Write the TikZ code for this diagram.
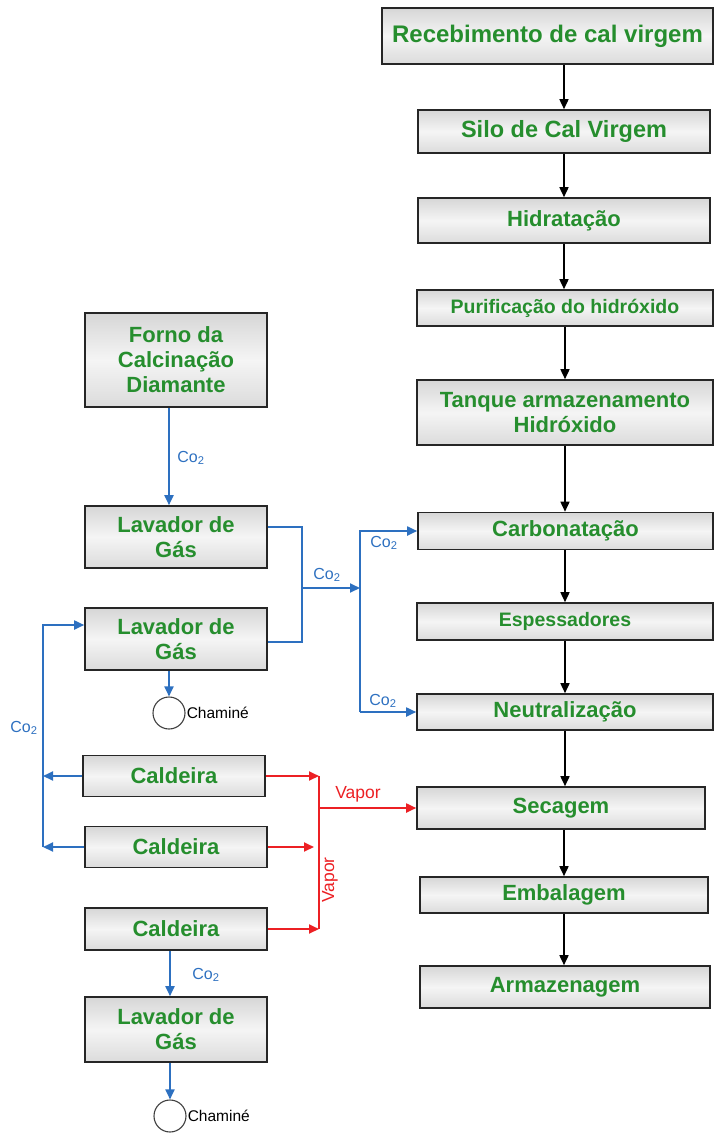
\documentclass[tikz,border=0pt]{standalone}
\usepackage{fontspec}
\setmainfont{Liberation Sans}
\usetikzlibrary{arrows.meta}
\definecolor{boxgreen}{RGB}{38,142,46}
\definecolor{flowblue}{RGB}{45,112,192}
\definecolor{flowred}{RGB}{236,32,36}
\tikzset{
  procbox/.style={draw=black!85, line width=1.6pt, inner sep=0pt, align=center,
    text=boxgreen, font=\bfseries\fontsize{22}{25}\selectfont,
    top color=gray!32, bottom color=gray!28, middle color=gray!8},
  blkarrow/.style={draw=black, line width=1.6pt, -{Triangle[length=10pt,width=9pt]}},
  blueline/.style={draw=flowblue, line width=1.8pt},
  bluearrow/.style={blueline, -{Triangle[length=10pt,width=9pt]}},
  redline/.style={draw=flowred, line width=1.8pt},
  redarrow/.style={redline, -{Triangle[length=10pt,width=9pt]}},
  colabel/.style={text=flowblue, font=\fontsize{16}{18}\selectfont, inner sep=1pt},
  vaplabel/.style={text=flowred, font=\fontsize{17.5}{20}\selectfont, inner sep=1pt},
  chimney/.style={circle, draw=black!75, line width=1.1pt, minimum size=32pt, inner sep=0pt},
  chimlabel/.style={anchor=west, font=\fontsize{15.5}{18}\selectfont, inner sep=1pt}
}
\begin{document}
\begin{tikzpicture}[x=1pt,y=-1pt]
\useasboundingbox (0,0) rectangle (715,1133);
% right column
\node[procbox, minimum width=331pt, minimum height=56pt, font=\bfseries\fontsize{24}{27}\selectfont] (rec) at (547.5,36) {Recebimento de cal virgem};
\node[procbox, minimum width=292pt, minimum height=43pt, font=\bfseries\fontsize{23.5}{27}\selectfont] (silo) at (564,131.5) {Silo de Cal Virgem};
\node[procbox, minimum width=292pt, minimum height=45pt] (hid) at (564,220.5) {Hidratação};
\node[procbox, minimum width=296pt, minimum height=36pt, font=\bfseries\fontsize{19.5}{22}\selectfont] (pur) at (565,308) {Purificação do hidróxido};
\node[procbox, minimum width=296pt, minimum height=65pt] (tan) at (565,412.5) {Tanque armazenamento\\Hidróxido};
\node[procbox, minimum width=295pt, minimum height=37pt] (carb) at (565.5,531) {Carbonatação};
\node[procbox, minimum width=296pt, minimum height=37pt, font=\bfseries\fontsize{19.5}{22}\selectfont] (esp) at (565,621.5) {Espessadores};
\node[procbox, minimum width=296pt, minimum height=36pt] (neu) at (565,712) {Neutralização};
\node[procbox, minimum width=288pt, minimum height=42pt] (sec) at (561,808) {Secagem};
\node[procbox, minimum width=288pt, minimum height=36pt] (emb) at (564,895) {Embalagem};
\node[procbox, minimum width=290pt, minimum height=42pt] (arm) at (565,987) {Armazenagem};
% left column
\node[procbox, minimum width=182pt, minimum height=94pt] (forno) at (176,360) {Forno da\\Calcinação\\Diamante};
\node[procbox, minimum width=182pt, minimum height=62pt] (lav1) at (176,537) {Lavador de\\Gás};
\node[procbox, minimum width=182pt, minimum height=62pt] (lav2) at (176,639) {Lavador de\\Gás};
\node[procbox, minimum width=182pt, minimum height=41pt] (cal1) at (174,776) {Caldeira};
\node[procbox, minimum width=182pt, minimum height=41pt] (cal2) at (176,847) {Caldeira};
\node[procbox, minimum width=182pt, minimum height=42pt] (cal3) at (176,929) {Caldeira};
\node[procbox, minimum width=182pt, minimum height=65pt] (lav3) at (176,1029.5) {Lavador de\\Gás};
% chimneys
\node[chimney] (ch1) at (169,713) {};
\node[chimlabel] (ch1l) at (ch1.east) {Chaminé};
\node[chimney] (ch2) at (170,1116) {};
\node[chimlabel] (ch2l) at (ch2.east) {Chaminé};
% right column arrows
\draw[blkarrow] (silo.north |- rec.south) -- (silo.north);
\draw[blkarrow] (silo.south) -- (hid.north);
\draw[blkarrow] (hid.south) -- (hid.south |- pur.north);
\draw[blkarrow] (pur.south) -- (tan.north);
\draw[blkarrow] (tan.south) -- (tan.south |- carb.north);
\draw[blkarrow] (esp.north |- carb.south) -- (esp.north);
\draw[blkarrow] (esp.south) -- (neu.north);
\draw[blkarrow] (neu.south) -- (neu.south |- sec.north);
\draw[blkarrow] (emb.north |- sec.south) -- (emb.north);
\draw[blkarrow] (emb.south) -- (emb.south |- arm.north);
% blue CO2 flows
\draw[bluearrow] ([xshift=-7pt]forno.south) -- ([xshift=-7pt]lav1.north);
\node[colabel] (co1) at (191,458) {Co\textsubscript{2}};
\coordinate (jx) at (302,588);
\coordinate (jv) at (360,588);
\draw[blueline] ([yshift=10pt]lav1.east) -| (jx) |- ([yshift=-3pt]lav2.east);
\draw[bluearrow] (jx) -- (jv);
\node[colabel] (co2) at (327,575) {Co\textsubscript{2}};
\draw[bluearrow] (jv |- neu.west) -- (jv |- carb.west) -- (carb.west);
\draw[bluearrow] (jv |- neu.west) -- (neu.west);
\node[colabel] (co3) at (384,543) {Co\textsubscript{2}};
\node[colabel] (co4) at (383,701) {Co\textsubscript{2}};
\draw[bluearrow] ([xshift=-7pt]lav2.south) -- (ch1.north);
\coordinate (lx) at (43,700);
\coordinate (lav2in) at ([yshift=14pt]lav2.west);
\draw[bluearrow] (cal1.west) -- (cal1.west -| lx);
\draw[bluearrow] (cal2.west) -- (cal2.west -| lx);
\draw[bluearrow] (cal2.west -| lx) -- (lx |- lav2in) -- (lav2in);
\node[colabel] (co5) at (24,728) {Co\textsubscript{2}};
\draw[bluearrow] ([xshift=-6pt]cal3.south) -- ([xshift=-6pt]lav3.north);
\node[colabel] (co6) at (206,975) {Co\textsubscript{2}};
\draw[bluearrow] ([xshift=-6pt]lav3.south) -- (ch2.north);
% red steam flows
\coordinate (rx) at (319,807);
\draw[redarrow] (cal1.east) -- (cal1.east -| rx);
\draw[redarrow] (cal2.east) -- ([xshift=-5pt]cal2.east -| rx);
\draw[redarrow] (cal3.east) -- (cal3.east -| rx);
\draw[redline] (rx |- cal1.east) -- (rx |- cal3.east);
\draw[redarrow] (sec.west -| rx) -- (sec.west);
\node[vaplabel] (vap1) at (358,794) {Vapor};
\node[vaplabel, rotate=90] (vap2) at (330,880) {Vapor};
\end{tikzpicture}
\end{document}
